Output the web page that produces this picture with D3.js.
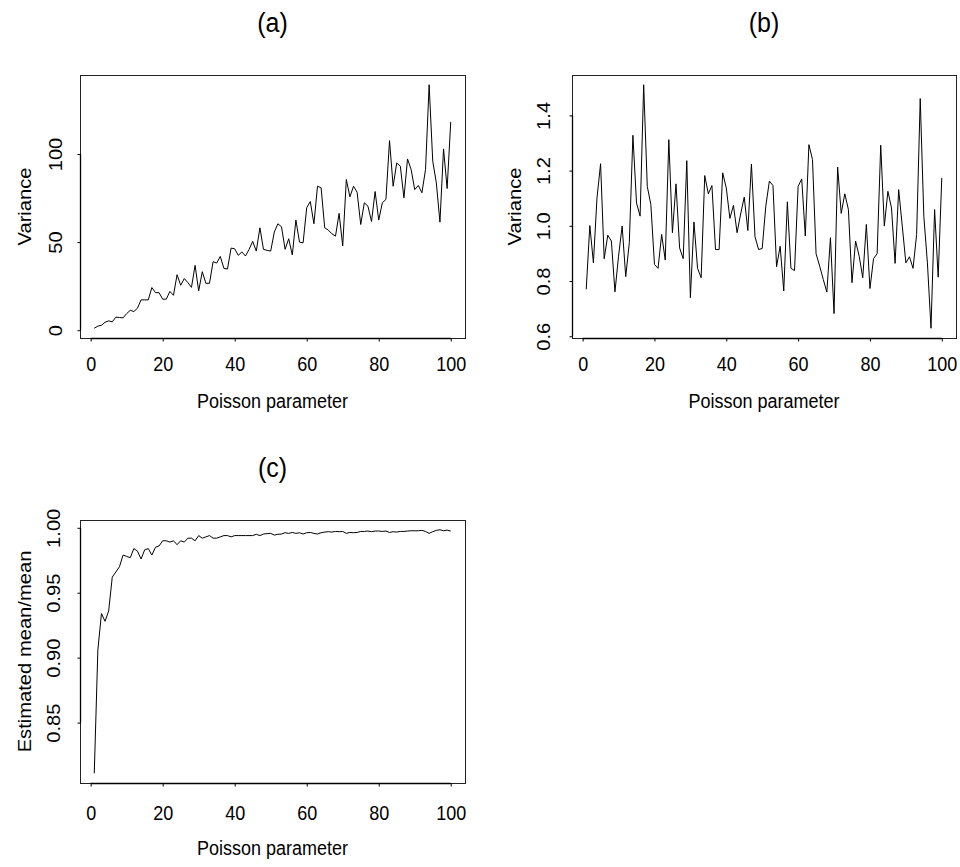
<!DOCTYPE html>
<html>
<head>
<meta charset="utf-8">
<script src="https://cdn.jsdelivr.net/npm/d3@7"></script>
<style>
  html, body { margin: 0; padding: 0; background: #fff; }
  svg { display: block; font-family: "Liberation Sans", Arial, Helvetica, sans-serif; }
</style>
</head>
<body>
<svg id="fig" width="960" height="867"></svg>
<script>
// Poisson parameter (lambda) values on the horizontal axis
const poissonParameter = d3.range(1, 101);

// (a) sample variance for each lambda
const varianceA = [
  1.1, 2.3, 2.8, 4.5, 5.3, 4.7, 7.4, 7.2, 7.0, 9.4,
  11.3, 10.6, 12.5, 17.2, 17.2, 17.2, 24.2, 21.3, 21.3, 17.6,
  17.6, 22.0, 19.8, 31.5, 25.5, 29.3, 27.0, 24.3, 36.8, 22.3,
  33.2, 26.6, 26.6, 38.9, 38.1, 41.9, 35.1, 34.7, 46.6, 46.2,
  42.5, 44.4, 42.1, 45.9, 50.4, 44.9, 58.1, 45.9, 45.3, 44.9,
  55.7, 60.4, 58.7, 45.9, 51.9, 42.7, 62.5, 50.0, 49.6, 69.5,
  73.0, 60.4, 81.7, 80.8, 58.1, 56.8, 54.7, 53.4, 66.3, 47.8,
  85.5, 75.7, 81.7, 78.3, 60.0, 72.3, 70.4, 61.7, 78.7, 62.5,
  72.3, 74.2, 107.6, 81.7, 94.9, 93.1, 75.1, 97.2, 91.2, 79.8,
  82.1, 78.0, 91.2, 139.3, 95.9, 83.6, 61.3, 102.9, 80.4, 118.2
];

// (b) variance of the standardised values
const varianceB = [
  0.770, 1.001, 0.866, 1.101, 1.225, 0.881, 0.966, 0.945, 0.761, 0.890,
  0.999, 0.816, 0.939, 1.328, 1.083, 1.035, 1.511, 1.143, 1.077, 0.860,
  0.846, 0.969, 0.876, 1.312, 0.975, 1.152, 0.920, 0.881, 1.236, 0.740,
  1.014, 0.846, 0.812, 1.182, 1.116, 1.146, 0.914, 0.914, 1.192, 1.137,
  1.027, 1.074, 0.975, 1.043, 1.104, 0.983, 1.224, 0.960, 0.914, 0.918,
  1.071, 1.162, 1.146, 0.852, 0.926, 0.764, 1.087, 0.846, 0.838, 1.143,
  1.170, 0.963, 1.294, 1.240, 0.899, 0.854, 0.806, 0.760, 0.957, 0.682,
  1.213, 1.045, 1.116, 1.059, 0.794, 0.945, 0.890, 0.812, 1.005, 0.773,
  0.881, 0.899, 1.292, 0.999, 1.125, 1.065, 0.864, 1.131, 0.999, 0.866,
  0.888, 0.846, 0.969, 1.461, 1.035, 0.866, 0.629, 1.059, 0.814, 1.174
];

// (c) ratio of estimated mean to true mean
const meanRatioC = [
  0.811, 0.906, 0.934, 0.928, 0.936, 0.962, 0.966, 0.970, 0.979, 0.978,
  0.977, 0.984, 0.982, 0.976, 0.983, 0.984, 0.979, 0.985, 0.986, 0.990,
  0.990, 0.989, 0.990, 0.987, 0.990, 0.989, 0.992, 0.992, 0.990, 0.994,
  0.992, 0.993, 0.994, 0.992, 0.992, 0.993, 0.994, 0.994, 0.993, 0.994,
  0.994, 0.994, 0.994, 0.994, 0.994, 0.995, 0.994, 0.9952, 0.9955, 0.9957,
  0.9944, 0.9950, 0.9952, 0.9962, 0.9957, 0.9964, 0.9957, 0.9962, 0.9952, 0.9962,
  0.9964, 0.9957, 0.9952, 0.9962, 0.9967, 0.9970, 0.9967, 0.9972, 0.9970, 0.9972,
  0.9957, 0.9964, 0.9962, 0.9964, 0.9972, 0.9972, 0.9975, 0.9970, 0.9975, 0.9975,
  0.9972, 0.9975, 0.9964, 0.9970, 0.9967, 0.9972, 0.9972, 0.9975, 0.9977, 0.9977,
  0.9977, 0.9980, 0.9972, 0.9957, 0.9970, 0.9980, 0.9985, 0.9977, 0.9982, 0.9975
];

// Tick values and labels
const xTicks = [0, 20, 40, 60, 80, 100];
const yTicksA = [0, 50, 100];
const yTicksB = [0.6, 0.8, 1.0, 1.2, 1.4];
const yTicksC = [0.85, 0.90, 0.95, 1.00];
const panelTitles = ["(a)", "(b)", "(c)"];
const xAxisTitle = "Poisson parameter";
const yAxisTitles = ["Variance", "Variance", "Estimated mean/mean"];

const svg = d3.select("#fig");
const STRETCH = 1.12;   // text is slightly taller than wide
const FONT = 18;
const TITLE_FONT = 25;

// data range padded by 4% on each side
function paddedExtent(arr) {
  const [lo, hi] = d3.extent(arr);
  const pad = 0.04 * (hi - lo);
  return [lo - pad, hi + pad];
}

function drawPanel(o) {
  const b = o.box;
  const x = d3.scaleLinear().domain(paddedExtent(poissonParameter)).range([b.x0, b.x1]);
  const y = d3.scaleLinear().domain(paddedExtent(o.values)).range([b.y1, b.y0]);
  const g = svg.append("g");

  // series line
  g.append("path")
    .datum(o.values)
    .attr("fill", "none")
    .attr("stroke", "#000")
    .attr("stroke-width", 1)
    .attr("stroke-linejoin", "miter")
    .attr("d", d3.line().x((d, i) => x(poissonParameter[i])).y(d => y(d)));

  // plot frame
  g.append("rect")
    .attr("x", b.x0 + 0.5).attr("y", b.y0 + 0.5)
    .attr("width", b.x1 - b.x0).attr("height", b.y1 - b.y0)
    .attr("fill", "none").attr("stroke", "#222").attr("stroke-width", 1);

  // bottom axis
  const xa = g.append("g")
    .attr("transform", `translate(0,${b.y1 + 0.5})`)
    .call(d3.axisBottom(x).tickValues(xTicks).tickSize(3).tickSizeOuter(0).tickFormat(d3.format("d")))
    .attr("font-size", null).attr("font-family", null).attr("color", "#000");
  xa.select(".domain").attr("d", `M${x(xTicks[0])},0H${x(xTicks[xTicks.length - 1])}`).attr("stroke-width", 1.3);
  xa.selectAll(".tick line").attr("stroke-width", 1);
  xa.selectAll(".tick text")
    .attr("y", null).attr("dy", null)
    .attr("fill", "#000")
    .attr("font-size", FONT)
    .attr("text-anchor", "middle")
    .attr("transform", `translate(0,${o.xTickBase - b.y1}) scale(1,${STRETCH})`);

  // left axis with rotated labels
  const ya = g.append("g")
    .attr("transform", `translate(${b.x0 + 0.5},0)`)
    .call(d3.axisLeft(y).tickValues(o.yTicks).tickSize(3).tickSizeOuter(0).tickFormat(d3.format(o.yFormat)))
    .attr("font-size", null).attr("font-family", null).attr("color", "#000");
  ya.select(".domain").attr("d", `M0,${y(o.yTicks[0])}V${y(o.yTicks[o.yTicks.length - 1])}`).attr("stroke-width", 1.3);
  ya.selectAll(".tick line").attr("stroke-width", 1);
  ya.selectAll(".tick text")
    .attr("x", null).attr("dy", null)
    .attr("fill", "#000")
    .attr("font-size", FONT)
    .attr("text-anchor", "middle")
    .attr("dominant-baseline", "central")
    .attr("transform", `translate(${o.yTickX - b.x0},0) scale(1,${STRETCH}) rotate(-90)`);

  // panel title
  g.append("text")
    .attr("transform", `translate(${(b.x0 + b.x1) / 2},${o.titleY}) scale(1,${STRETCH})`)
    .attr("text-anchor", "middle").attr("dominant-baseline", "central")
    .attr("font-size", TITLE_FONT).attr("fill", "#000")
    .text(o.title);

  // axis titles
  g.append("text")
    .attr("transform", `translate(${(b.x0 + b.x1) / 2},${o.xTitleBase}) scale(1,${STRETCH})`)
    .attr("text-anchor", "middle")
    .attr("font-size", FONT).attr("fill", "#000")
    .text(xAxisTitle);

  g.append("text")
    .attr("transform", `translate(${o.yTitleX},${(b.y0 + b.y1) / 2}) scale(1,${STRETCH}) rotate(-90)`)
    .attr("text-anchor", "middle").attr("dominant-baseline", "central")
    .attr("font-size", FONT).attr("fill", "#000")
    .text(o.yTitle);
}

drawPanel({
  box: { x0: 80, x1: 465, y0: 75, y1: 338 },
  values: varianceA, yTicks: yTicksA, yFormat: "d",
  title: panelTitles[0], yTitle: yAxisTitles[0],
  titleY: 23, xTickBase: 370, xTitleBase: 408, yTickX: 55, yTitleX: 25
});

drawPanel({
  box: { x0: 572, x1: 956, y0: 75, y1: 338 },
  values: varianceB, yTicks: yTicksB, yFormat: ".1f",
  title: panelTitles[1], yTitle: yAxisTitles[1],
  titleY: 23, xTickBase: 370, xTitleBase: 408, yTickX: 543, yTitleX: 515
});

drawPanel({
  box: { x0: 80, x1: 465, y0: 520, y1: 783 },
  values: meanRatioC, yTicks: yTicksC, yFormat: ".2f",
  title: panelTitles[2], yTitle: yAxisTitles[2],
  titleY: 468, xTickBase: 819, xTitleBase: 855, yTickX: 53, yTitleX: 25
});
</script>
</body>
</html>
